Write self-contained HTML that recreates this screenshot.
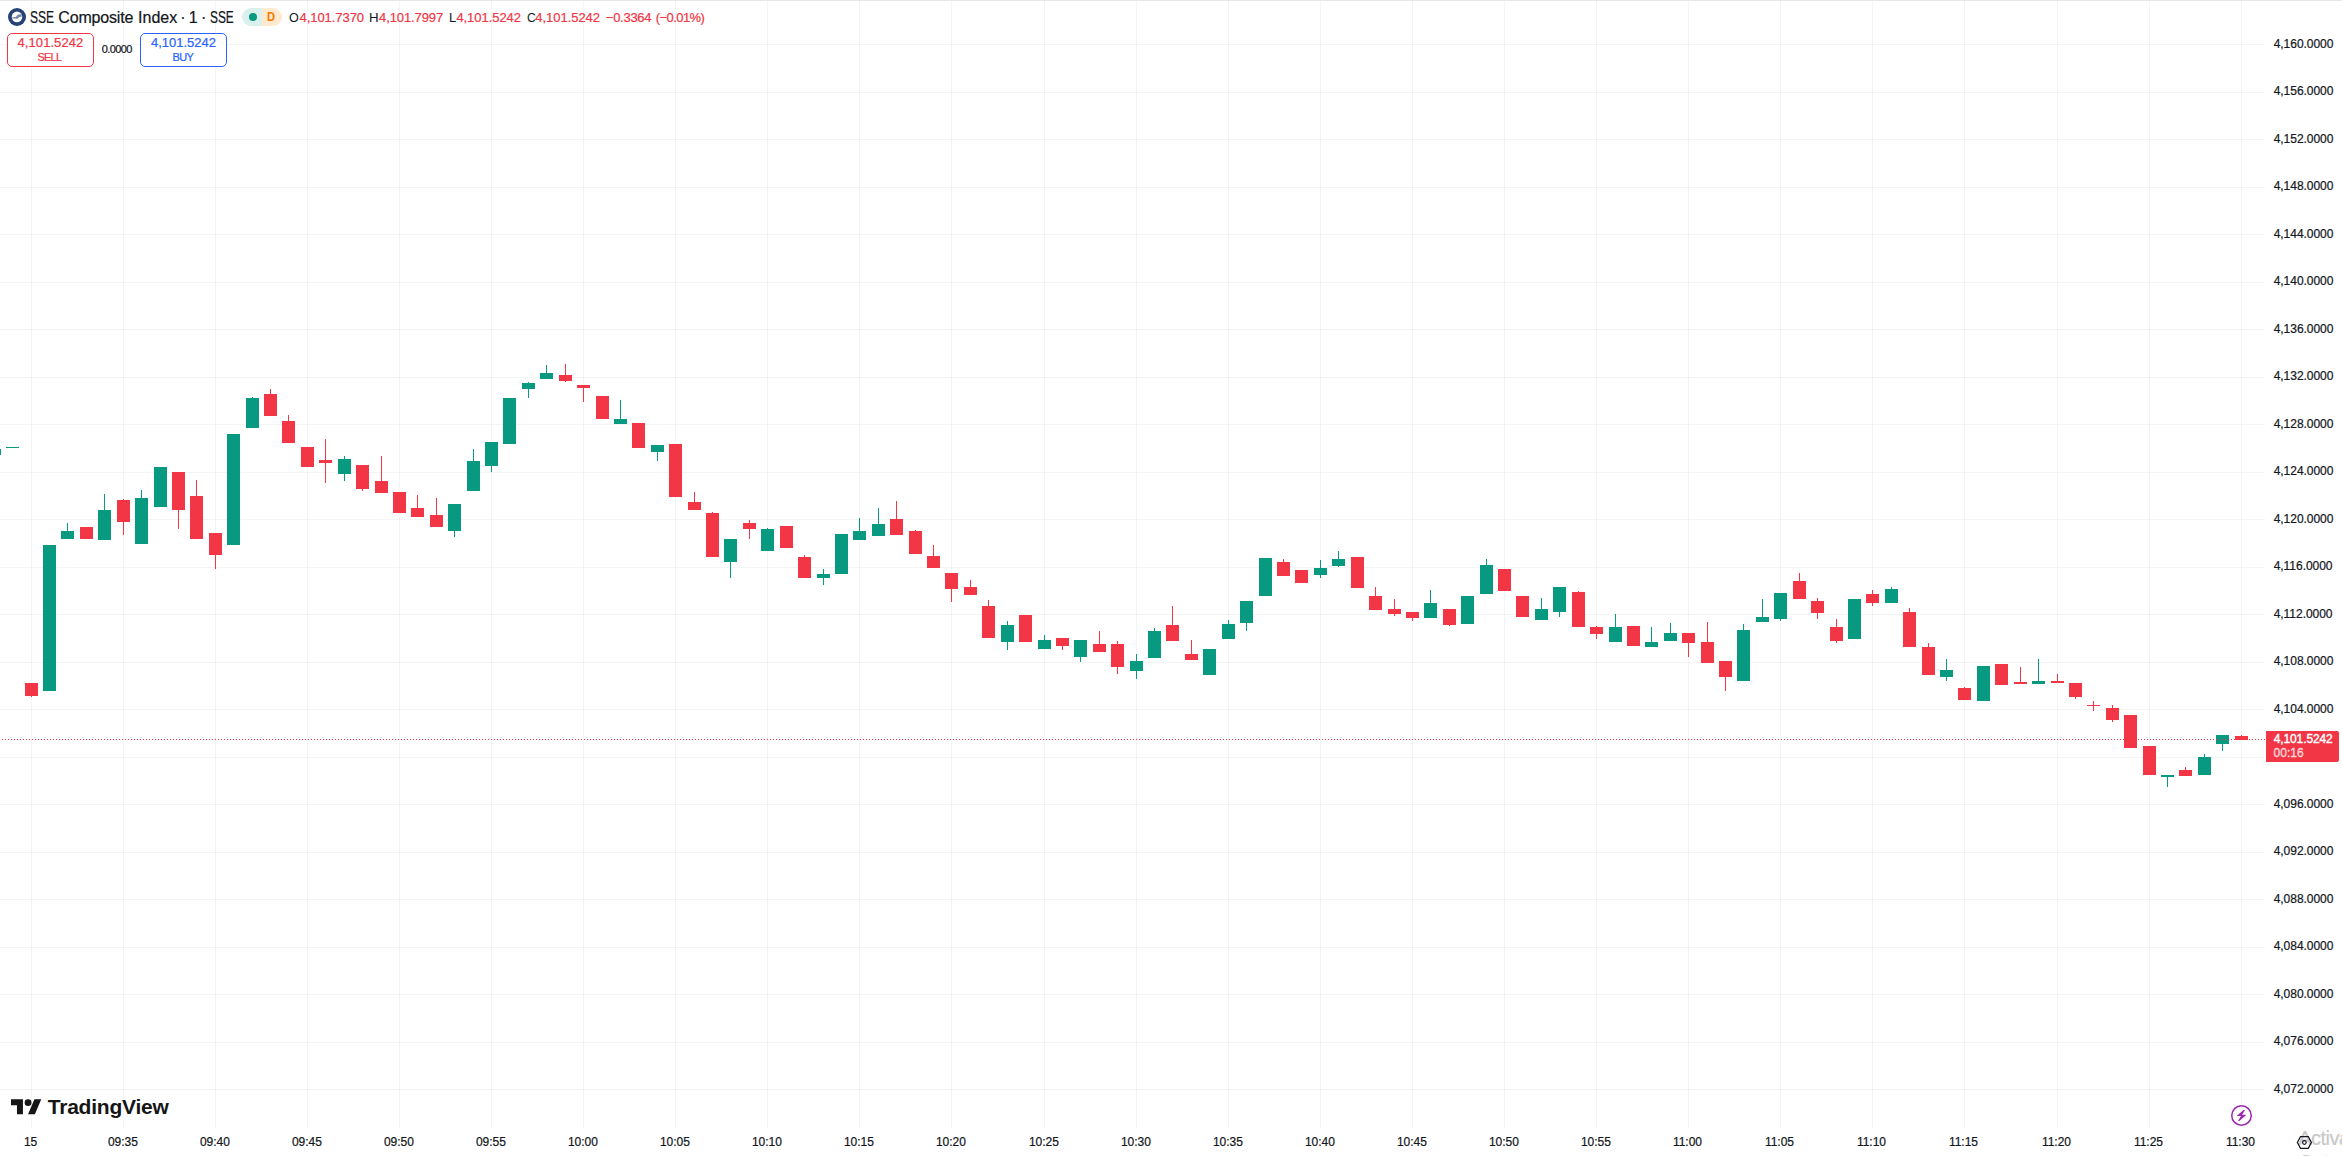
<!DOCTYPE html>
<html lang="en"><head><meta charset="utf-8"><title>SSE Composite Index</title>
<style>
html,body{margin:0;padding:0;background:#fff;}
body{width:2342px;height:1156px;position:relative;overflow:hidden;font-family:"Liberation Sans",sans-serif;color:#131722;}
#chart{position:absolute;left:0;top:0;}
.t{position:absolute;white-space:nowrap;line-height:1;-webkit-text-stroke:0.22px currentColor;}
.pl{font-size:12px;}
.tl{font-size:12px;top:1136px;}
</style></head><body>

<svg id="chart" width="2342" height="1156" viewBox="0 0 2342 1156" shape-rendering="crispEdges">
<rect x="0" y="0" width="2342" height="1" fill="#e8e8e8"/>
<g fill="rgba(42,46,57,0.055)">
<rect x="0" y="44" width="2265" height="1"/>
<rect x="0" y="92" width="2265" height="1"/>
<rect x="0" y="139" width="2265" height="1"/>
<rect x="0" y="187" width="2265" height="1"/>
<rect x="0" y="234" width="2265" height="1"/>
<rect x="0" y="282" width="2265" height="1"/>
<rect x="0" y="329" width="2265" height="1"/>
<rect x="0" y="377" width="2265" height="1"/>
<rect x="0" y="424" width="2265" height="1"/>
<rect x="0" y="472" width="2265" height="1"/>
<rect x="0" y="519" width="2265" height="1"/>
<rect x="0" y="567" width="2265" height="1"/>
<rect x="0" y="614" width="2265" height="1"/>
<rect x="0" y="662" width="2265" height="1"/>
<rect x="0" y="709" width="2265" height="1"/>
<rect x="0" y="757" width="2265" height="1"/>
<rect x="0" y="804" width="2265" height="1"/>
<rect x="0" y="852" width="2265" height="1"/>
<rect x="0" y="899" width="2265" height="1"/>
<rect x="0" y="947" width="2265" height="1"/>
<rect x="0" y="994" width="2265" height="1"/>
<rect x="0" y="1042" width="2265" height="1"/>
<rect x="0" y="1089" width="2265" height="1"/>
<rect x="31" y="1" width="1" height="1127"/>
<rect x="123" y="1" width="1" height="1127"/>
<rect x="215" y="1" width="1" height="1127"/>
<rect x="307" y="1" width="1" height="1127"/>
<rect x="399" y="1" width="1" height="1127"/>
<rect x="491" y="1" width="1" height="1127"/>
<rect x="583" y="1" width="1" height="1127"/>
<rect x="675" y="1" width="1" height="1127"/>
<rect x="767" y="1" width="1" height="1127"/>
<rect x="859" y="1" width="1" height="1127"/>
<rect x="951" y="1" width="1" height="1127"/>
<rect x="1044" y="1" width="1" height="1127"/>
<rect x="1136" y="1" width="1" height="1127"/>
<rect x="1228" y="1" width="1" height="1127"/>
<rect x="1320" y="1" width="1" height="1127"/>
<rect x="1412" y="1" width="1" height="1127"/>
<rect x="1504" y="1" width="1" height="1127"/>
<rect x="1596" y="1" width="1" height="1127"/>
<rect x="1688" y="1" width="1" height="1127"/>
<rect x="1780" y="1" width="1" height="1127"/>
<rect x="1872" y="1" width="1" height="1127"/>
<rect x="1964" y="1" width="1" height="1127"/>
<rect x="2057" y="1" width="1" height="1127"/>
<rect x="2149" y="1" width="1" height="1127"/>
<rect x="2241" y="1" width="1" height="1127"/>
</g>
<rect x="0" y="449" width="1" height="6" fill="#089981"/>
<rect x="6" y="447" width="13" height="1" fill="#089981"/>
<rect x="31" y="683" width="1" height="14" fill="#f23645"/>
<rect x="25" y="683" width="13" height="13" fill="#f23645"/>
<rect x="43" y="545" width="13" height="146" fill="#089981"/>
<rect x="67" y="523" width="1" height="16" fill="#089981"/>
<rect x="61" y="531" width="13" height="8" fill="#089981"/>
<rect x="80" y="527" width="13" height="12" fill="#f23645"/>
<rect x="104" y="494" width="1" height="46" fill="#089981"/>
<rect x="98" y="510" width="13" height="30" fill="#089981"/>
<rect x="123" y="499" width="1" height="36" fill="#f23645"/>
<rect x="117" y="500" width="13" height="22" fill="#f23645"/>
<rect x="141" y="490" width="1" height="54" fill="#089981"/>
<rect x="135" y="498" width="13" height="46" fill="#089981"/>
<rect x="154" y="467" width="13" height="40" fill="#089981"/>
<rect x="178" y="472" width="1" height="57" fill="#f23645"/>
<rect x="172" y="472" width="13" height="38" fill="#f23645"/>
<rect x="196" y="480" width="1" height="59" fill="#f23645"/>
<rect x="190" y="496" width="13" height="43" fill="#f23645"/>
<rect x="215" y="533" width="1" height="36" fill="#f23645"/>
<rect x="209" y="533" width="13" height="22" fill="#f23645"/>
<rect x="227" y="434" width="13" height="111" fill="#089981"/>
<rect x="252" y="397" width="1" height="31" fill="#089981"/>
<rect x="246" y="398" width="13" height="30" fill="#089981"/>
<rect x="270" y="389" width="1" height="27" fill="#f23645"/>
<rect x="264" y="394" width="13" height="22" fill="#f23645"/>
<rect x="288" y="415" width="1" height="28" fill="#f23645"/>
<rect x="282" y="421" width="13" height="22" fill="#f23645"/>
<rect x="301" y="447" width="13" height="20" fill="#f23645"/>
<rect x="325" y="439" width="1" height="44" fill="#f23645"/>
<rect x="319" y="460" width="13" height="3" fill="#f23645"/>
<rect x="344" y="456" width="1" height="25" fill="#089981"/>
<rect x="338" y="459" width="13" height="15" fill="#089981"/>
<rect x="362" y="465" width="1" height="26" fill="#f23645"/>
<rect x="356" y="465" width="13" height="24" fill="#f23645"/>
<rect x="381" y="456" width="1" height="37" fill="#f23645"/>
<rect x="375" y="481" width="13" height="12" fill="#f23645"/>
<rect x="393" y="492" width="13" height="21" fill="#f23645"/>
<rect x="417" y="495" width="1" height="22" fill="#f23645"/>
<rect x="411" y="508" width="13" height="9" fill="#f23645"/>
<rect x="436" y="498" width="1" height="29" fill="#f23645"/>
<rect x="430" y="515" width="13" height="12" fill="#f23645"/>
<rect x="454" y="504" width="1" height="33" fill="#089981"/>
<rect x="448" y="504" width="13" height="27" fill="#089981"/>
<rect x="473" y="449" width="1" height="42" fill="#089981"/>
<rect x="467" y="461" width="13" height="30" fill="#089981"/>
<rect x="491" y="442" width="1" height="30" fill="#089981"/>
<rect x="485" y="442" width="13" height="24" fill="#089981"/>
<rect x="503" y="398" width="13" height="46" fill="#089981"/>
<rect x="528" y="382" width="1" height="16" fill="#089981"/>
<rect x="522" y="383" width="13" height="6" fill="#089981"/>
<rect x="546" y="365" width="1" height="14" fill="#089981"/>
<rect x="540" y="373" width="13" height="6" fill="#089981"/>
<rect x="565" y="364" width="1" height="18" fill="#f23645"/>
<rect x="559" y="375" width="13" height="6" fill="#f23645"/>
<rect x="583" y="385" width="1" height="17" fill="#f23645"/>
<rect x="577" y="385" width="13" height="3" fill="#f23645"/>
<rect x="596" y="396" width="13" height="23" fill="#f23645"/>
<rect x="620" y="400" width="1" height="24" fill="#089981"/>
<rect x="614" y="419" width="13" height="5" fill="#089981"/>
<rect x="632" y="423" width="13" height="25" fill="#f23645"/>
<rect x="657" y="445" width="1" height="16" fill="#089981"/>
<rect x="651" y="445" width="13" height="7" fill="#089981"/>
<rect x="669" y="444" width="13" height="53" fill="#f23645"/>
<rect x="694" y="492" width="1" height="18" fill="#f23645"/>
<rect x="688" y="502" width="13" height="8" fill="#f23645"/>
<rect x="712" y="512" width="1" height="45" fill="#f23645"/>
<rect x="706" y="513" width="13" height="44" fill="#f23645"/>
<rect x="730" y="539" width="1" height="39" fill="#089981"/>
<rect x="724" y="539" width="13" height="23" fill="#089981"/>
<rect x="749" y="520" width="1" height="19" fill="#f23645"/>
<rect x="743" y="523" width="13" height="6" fill="#f23645"/>
<rect x="767" y="528" width="1" height="23" fill="#089981"/>
<rect x="761" y="529" width="13" height="22" fill="#089981"/>
<rect x="780" y="526" width="13" height="22" fill="#f23645"/>
<rect x="804" y="555" width="1" height="23" fill="#f23645"/>
<rect x="798" y="557" width="13" height="21" fill="#f23645"/>
<rect x="823" y="569" width="1" height="16" fill="#089981"/>
<rect x="817" y="574" width="13" height="4" fill="#089981"/>
<rect x="835" y="534" width="13" height="40" fill="#089981"/>
<rect x="859" y="518" width="1" height="22" fill="#089981"/>
<rect x="853" y="531" width="13" height="9" fill="#089981"/>
<rect x="878" y="508" width="1" height="28" fill="#089981"/>
<rect x="872" y="524" width="13" height="12" fill="#089981"/>
<rect x="896" y="501" width="1" height="34" fill="#f23645"/>
<rect x="890" y="519" width="13" height="16" fill="#f23645"/>
<rect x="915" y="530" width="1" height="24" fill="#f23645"/>
<rect x="909" y="531" width="13" height="23" fill="#f23645"/>
<rect x="933" y="545" width="1" height="23" fill="#f23645"/>
<rect x="927" y="556" width="13" height="12" fill="#f23645"/>
<rect x="951" y="573" width="1" height="29" fill="#f23645"/>
<rect x="945" y="573" width="13" height="16" fill="#f23645"/>
<rect x="970" y="580" width="1" height="15" fill="#f23645"/>
<rect x="964" y="587" width="13" height="8" fill="#f23645"/>
<rect x="988" y="600" width="1" height="38" fill="#f23645"/>
<rect x="982" y="606" width="13" height="32" fill="#f23645"/>
<rect x="1007" y="621" width="1" height="29" fill="#089981"/>
<rect x="1001" y="625" width="13" height="17" fill="#089981"/>
<rect x="1019" y="615" width="13" height="27" fill="#f23645"/>
<rect x="1044" y="635" width="1" height="14" fill="#089981"/>
<rect x="1038" y="640" width="13" height="9" fill="#089981"/>
<rect x="1062" y="638" width="1" height="12" fill="#f23645"/>
<rect x="1056" y="638" width="13" height="8" fill="#f23645"/>
<rect x="1080" y="640" width="1" height="22" fill="#089981"/>
<rect x="1074" y="640" width="13" height="17" fill="#089981"/>
<rect x="1099" y="631" width="1" height="21" fill="#f23645"/>
<rect x="1093" y="644" width="13" height="8" fill="#f23645"/>
<rect x="1117" y="641" width="1" height="33" fill="#f23645"/>
<rect x="1111" y="644" width="13" height="23" fill="#f23645"/>
<rect x="1136" y="654" width="1" height="25" fill="#089981"/>
<rect x="1130" y="661" width="13" height="10" fill="#089981"/>
<rect x="1154" y="628" width="1" height="30" fill="#089981"/>
<rect x="1148" y="631" width="13" height="27" fill="#089981"/>
<rect x="1172" y="606" width="1" height="35" fill="#f23645"/>
<rect x="1166" y="625" width="13" height="16" fill="#f23645"/>
<rect x="1191" y="640" width="1" height="20" fill="#f23645"/>
<rect x="1185" y="654" width="13" height="6" fill="#f23645"/>
<rect x="1203" y="649" width="13" height="26" fill="#089981"/>
<rect x="1228" y="620" width="1" height="19" fill="#089981"/>
<rect x="1222" y="624" width="13" height="15" fill="#089981"/>
<rect x="1246" y="601" width="1" height="30" fill="#089981"/>
<rect x="1240" y="601" width="13" height="22" fill="#089981"/>
<rect x="1259" y="558" width="13" height="38" fill="#089981"/>
<rect x="1283" y="559" width="1" height="17" fill="#f23645"/>
<rect x="1277" y="562" width="13" height="14" fill="#f23645"/>
<rect x="1295" y="570" width="13" height="13" fill="#f23645"/>
<rect x="1320" y="560" width="1" height="18" fill="#089981"/>
<rect x="1314" y="568" width="13" height="7" fill="#089981"/>
<rect x="1338" y="551" width="1" height="16" fill="#089981"/>
<rect x="1332" y="559" width="13" height="7" fill="#089981"/>
<rect x="1351" y="557" width="13" height="31" fill="#f23645"/>
<rect x="1375" y="587" width="1" height="23" fill="#f23645"/>
<rect x="1369" y="596" width="13" height="14" fill="#f23645"/>
<rect x="1394" y="599" width="1" height="17" fill="#f23645"/>
<rect x="1388" y="609" width="13" height="5" fill="#f23645"/>
<rect x="1412" y="612" width="1" height="9" fill="#f23645"/>
<rect x="1406" y="612" width="13" height="6" fill="#f23645"/>
<rect x="1430" y="590" width="1" height="28" fill="#089981"/>
<rect x="1424" y="603" width="13" height="15" fill="#089981"/>
<rect x="1449" y="609" width="1" height="17" fill="#f23645"/>
<rect x="1443" y="609" width="13" height="16" fill="#f23645"/>
<rect x="1461" y="596" width="13" height="28" fill="#089981"/>
<rect x="1486" y="559" width="1" height="35" fill="#089981"/>
<rect x="1480" y="565" width="13" height="29" fill="#089981"/>
<rect x="1498" y="569" width="13" height="22" fill="#f23645"/>
<rect x="1516" y="596" width="13" height="21" fill="#f23645"/>
<rect x="1541" y="598" width="1" height="22" fill="#089981"/>
<rect x="1535" y="609" width="13" height="11" fill="#089981"/>
<rect x="1559" y="587" width="1" height="30" fill="#089981"/>
<rect x="1553" y="587" width="13" height="25" fill="#089981"/>
<rect x="1578" y="591" width="1" height="36" fill="#f23645"/>
<rect x="1572" y="592" width="13" height="35" fill="#f23645"/>
<rect x="1596" y="626" width="1" height="13" fill="#f23645"/>
<rect x="1590" y="627" width="13" height="7" fill="#f23645"/>
<rect x="1615" y="614" width="1" height="28" fill="#089981"/>
<rect x="1609" y="627" width="13" height="15" fill="#089981"/>
<rect x="1627" y="626" width="13" height="20" fill="#f23645"/>
<rect x="1651" y="627" width="1" height="20" fill="#089981"/>
<rect x="1645" y="642" width="13" height="5" fill="#089981"/>
<rect x="1670" y="623" width="1" height="18" fill="#089981"/>
<rect x="1664" y="633" width="13" height="8" fill="#089981"/>
<rect x="1688" y="633" width="1" height="24" fill="#f23645"/>
<rect x="1682" y="633" width="13" height="10" fill="#f23645"/>
<rect x="1707" y="622" width="1" height="41" fill="#f23645"/>
<rect x="1701" y="642" width="13" height="21" fill="#f23645"/>
<rect x="1725" y="661" width="1" height="30" fill="#f23645"/>
<rect x="1719" y="661" width="13" height="16" fill="#f23645"/>
<rect x="1743" y="624" width="1" height="57" fill="#089981"/>
<rect x="1737" y="630" width="13" height="51" fill="#089981"/>
<rect x="1762" y="599" width="1" height="23" fill="#089981"/>
<rect x="1756" y="617" width="13" height="5" fill="#089981"/>
<rect x="1780" y="593" width="1" height="28" fill="#089981"/>
<rect x="1774" y="593" width="13" height="26" fill="#089981"/>
<rect x="1799" y="573" width="1" height="26" fill="#f23645"/>
<rect x="1793" y="581" width="13" height="18" fill="#f23645"/>
<rect x="1817" y="598" width="1" height="21" fill="#f23645"/>
<rect x="1811" y="601" width="13" height="12" fill="#f23645"/>
<rect x="1836" y="619" width="1" height="24" fill="#f23645"/>
<rect x="1830" y="627" width="13" height="14" fill="#f23645"/>
<rect x="1848" y="599" width="13" height="40" fill="#089981"/>
<rect x="1872" y="590" width="1" height="16" fill="#f23645"/>
<rect x="1866" y="594" width="13" height="9" fill="#f23645"/>
<rect x="1891" y="587" width="1" height="16" fill="#089981"/>
<rect x="1885" y="589" width="13" height="14" fill="#089981"/>
<rect x="1909" y="608" width="1" height="39" fill="#f23645"/>
<rect x="1903" y="612" width="13" height="35" fill="#f23645"/>
<rect x="1928" y="643" width="1" height="32" fill="#f23645"/>
<rect x="1922" y="647" width="13" height="28" fill="#f23645"/>
<rect x="1946" y="659" width="1" height="22" fill="#089981"/>
<rect x="1940" y="670" width="13" height="7" fill="#089981"/>
<rect x="1964" y="687" width="1" height="13" fill="#f23645"/>
<rect x="1958" y="688" width="13" height="12" fill="#f23645"/>
<rect x="1977" y="666" width="13" height="35" fill="#089981"/>
<rect x="1995" y="664" width="13" height="21" fill="#f23645"/>
<rect x="2020" y="667" width="1" height="17" fill="#f23645"/>
<rect x="2014" y="682" width="13" height="2" fill="#f23645"/>
<rect x="2038" y="659" width="1" height="25" fill="#089981"/>
<rect x="2032" y="681" width="13" height="3" fill="#089981"/>
<rect x="2057" y="674" width="1" height="9" fill="#f23645"/>
<rect x="2051" y="681" width="13" height="2" fill="#f23645"/>
<rect x="2075" y="683" width="1" height="16" fill="#f23645"/>
<rect x="2069" y="683" width="13" height="14" fill="#f23645"/>
<rect x="2093" y="701" width="1" height="10" fill="#f23645"/>
<rect x="2087" y="705" width="13" height="1" fill="#f23645"/>
<rect x="2112" y="705" width="1" height="17" fill="#f23645"/>
<rect x="2106" y="708" width="13" height="12" fill="#f23645"/>
<rect x="2124" y="715" width="13" height="33" fill="#f23645"/>
<rect x="2143" y="746" width="13" height="29" fill="#f23645"/>
<rect x="2167" y="775" width="1" height="12" fill="#089981"/>
<rect x="2161" y="775" width="13" height="2" fill="#089981"/>
<rect x="2185" y="767" width="1" height="9" fill="#f23645"/>
<rect x="2179" y="770" width="13" height="6" fill="#f23645"/>
<rect x="2204" y="754" width="1" height="21" fill="#089981"/>
<rect x="2198" y="757" width="13" height="18" fill="#089981"/>
<rect x="2222" y="735" width="1" height="16" fill="#089981"/>
<rect x="2216" y="735" width="13" height="9" fill="#089981"/>
<rect x="2241" y="735" width="1" height="5" fill="#f23645"/>
<rect x="2235" y="736" width="13" height="4" fill="#f23645"/>
<g fill="#f23645">
<rect x="2" y="739" width="1" height="1"/>
<rect x="5" y="739" width="1" height="1"/>
<rect x="8" y="739" width="1" height="1"/>
<rect x="11" y="739" width="1" height="1"/>
<rect x="14" y="739" width="1" height="1"/>
<rect x="17" y="739" width="1" height="1"/>
<rect x="20" y="739" width="1" height="1"/>
<rect x="23" y="739" width="1" height="1"/>
<rect x="26" y="739" width="1" height="1"/>
<rect x="29" y="739" width="1" height="1"/>
<rect x="32" y="739" width="1" height="1"/>
<rect x="35" y="739" width="1" height="1"/>
<rect x="38" y="739" width="1" height="1"/>
<rect x="41" y="739" width="1" height="1"/>
<rect x="44" y="739" width="1" height="1"/>
<rect x="47" y="739" width="1" height="1"/>
<rect x="50" y="739" width="1" height="1"/>
<rect x="53" y="739" width="1" height="1"/>
<rect x="56" y="739" width="1" height="1"/>
<rect x="59" y="739" width="1" height="1"/>
<rect x="62" y="739" width="1" height="1"/>
<rect x="65" y="739" width="1" height="1"/>
<rect x="68" y="739" width="1" height="1"/>
<rect x="71" y="739" width="1" height="1"/>
<rect x="74" y="739" width="1" height="1"/>
<rect x="77" y="739" width="1" height="1"/>
<rect x="80" y="739" width="1" height="1"/>
<rect x="83" y="739" width="1" height="1"/>
<rect x="86" y="739" width="1" height="1"/>
<rect x="89" y="739" width="1" height="1"/>
<rect x="92" y="739" width="1" height="1"/>
<rect x="95" y="739" width="1" height="1"/>
<rect x="98" y="739" width="1" height="1"/>
<rect x="101" y="739" width="1" height="1"/>
<rect x="104" y="739" width="1" height="1"/>
<rect x="107" y="739" width="1" height="1"/>
<rect x="110" y="739" width="1" height="1"/>
<rect x="113" y="739" width="1" height="1"/>
<rect x="116" y="739" width="1" height="1"/>
<rect x="119" y="739" width="1" height="1"/>
<rect x="122" y="739" width="1" height="1"/>
<rect x="125" y="739" width="1" height="1"/>
<rect x="128" y="739" width="1" height="1"/>
<rect x="131" y="739" width="1" height="1"/>
<rect x="134" y="739" width="1" height="1"/>
<rect x="137" y="739" width="1" height="1"/>
<rect x="140" y="739" width="1" height="1"/>
<rect x="143" y="739" width="1" height="1"/>
<rect x="146" y="739" width="1" height="1"/>
<rect x="149" y="739" width="1" height="1"/>
<rect x="152" y="739" width="1" height="1"/>
<rect x="155" y="739" width="1" height="1"/>
<rect x="158" y="739" width="1" height="1"/>
<rect x="161" y="739" width="1" height="1"/>
<rect x="164" y="739" width="1" height="1"/>
<rect x="167" y="739" width="1" height="1"/>
<rect x="170" y="739" width="1" height="1"/>
<rect x="173" y="739" width="1" height="1"/>
<rect x="176" y="739" width="1" height="1"/>
<rect x="179" y="739" width="1" height="1"/>
<rect x="182" y="739" width="1" height="1"/>
<rect x="185" y="739" width="1" height="1"/>
<rect x="188" y="739" width="1" height="1"/>
<rect x="191" y="739" width="1" height="1"/>
<rect x="194" y="739" width="1" height="1"/>
<rect x="197" y="739" width="1" height="1"/>
<rect x="200" y="739" width="1" height="1"/>
<rect x="203" y="739" width="1" height="1"/>
<rect x="206" y="739" width="1" height="1"/>
<rect x="209" y="739" width="1" height="1"/>
<rect x="212" y="739" width="1" height="1"/>
<rect x="215" y="739" width="1" height="1"/>
<rect x="218" y="739" width="1" height="1"/>
<rect x="221" y="739" width="1" height="1"/>
<rect x="224" y="739" width="1" height="1"/>
<rect x="227" y="739" width="1" height="1"/>
<rect x="230" y="739" width="1" height="1"/>
<rect x="233" y="739" width="1" height="1"/>
<rect x="236" y="739" width="1" height="1"/>
<rect x="239" y="739" width="1" height="1"/>
<rect x="242" y="739" width="1" height="1"/>
<rect x="245" y="739" width="1" height="1"/>
<rect x="248" y="739" width="1" height="1"/>
<rect x="251" y="739" width="1" height="1"/>
<rect x="254" y="739" width="1" height="1"/>
<rect x="257" y="739" width="1" height="1"/>
<rect x="260" y="739" width="1" height="1"/>
<rect x="263" y="739" width="1" height="1"/>
<rect x="266" y="739" width="1" height="1"/>
<rect x="269" y="739" width="1" height="1"/>
<rect x="272" y="739" width="1" height="1"/>
<rect x="275" y="739" width="1" height="1"/>
<rect x="278" y="739" width="1" height="1"/>
<rect x="281" y="739" width="1" height="1"/>
<rect x="284" y="739" width="1" height="1"/>
<rect x="287" y="739" width="1" height="1"/>
<rect x="290" y="739" width="1" height="1"/>
<rect x="293" y="739" width="1" height="1"/>
<rect x="296" y="739" width="1" height="1"/>
<rect x="299" y="739" width="1" height="1"/>
<rect x="302" y="739" width="1" height="1"/>
<rect x="305" y="739" width="1" height="1"/>
<rect x="308" y="739" width="1" height="1"/>
<rect x="311" y="739" width="1" height="1"/>
<rect x="314" y="739" width="1" height="1"/>
<rect x="317" y="739" width="1" height="1"/>
<rect x="320" y="739" width="1" height="1"/>
<rect x="323" y="739" width="1" height="1"/>
<rect x="326" y="739" width="1" height="1"/>
<rect x="329" y="739" width="1" height="1"/>
<rect x="332" y="739" width="1" height="1"/>
<rect x="335" y="739" width="1" height="1"/>
<rect x="338" y="739" width="1" height="1"/>
<rect x="341" y="739" width="1" height="1"/>
<rect x="344" y="739" width="1" height="1"/>
<rect x="347" y="739" width="1" height="1"/>
<rect x="350" y="739" width="1" height="1"/>
<rect x="353" y="739" width="1" height="1"/>
<rect x="356" y="739" width="1" height="1"/>
<rect x="359" y="739" width="1" height="1"/>
<rect x="362" y="739" width="1" height="1"/>
<rect x="365" y="739" width="1" height="1"/>
<rect x="368" y="739" width="1" height="1"/>
<rect x="371" y="739" width="1" height="1"/>
<rect x="374" y="739" width="1" height="1"/>
<rect x="377" y="739" width="1" height="1"/>
<rect x="380" y="739" width="1" height="1"/>
<rect x="383" y="739" width="1" height="1"/>
<rect x="386" y="739" width="1" height="1"/>
<rect x="389" y="739" width="1" height="1"/>
<rect x="392" y="739" width="1" height="1"/>
<rect x="395" y="739" width="1" height="1"/>
<rect x="398" y="739" width="1" height="1"/>
<rect x="401" y="739" width="1" height="1"/>
<rect x="404" y="739" width="1" height="1"/>
<rect x="407" y="739" width="1" height="1"/>
<rect x="410" y="739" width="1" height="1"/>
<rect x="413" y="739" width="1" height="1"/>
<rect x="416" y="739" width="1" height="1"/>
<rect x="419" y="739" width="1" height="1"/>
<rect x="422" y="739" width="1" height="1"/>
<rect x="425" y="739" width="1" height="1"/>
<rect x="428" y="739" width="1" height="1"/>
<rect x="431" y="739" width="1" height="1"/>
<rect x="434" y="739" width="1" height="1"/>
<rect x="437" y="739" width="1" height="1"/>
<rect x="440" y="739" width="1" height="1"/>
<rect x="443" y="739" width="1" height="1"/>
<rect x="446" y="739" width="1" height="1"/>
<rect x="449" y="739" width="1" height="1"/>
<rect x="452" y="739" width="1" height="1"/>
<rect x="455" y="739" width="1" height="1"/>
<rect x="458" y="739" width="1" height="1"/>
<rect x="461" y="739" width="1" height="1"/>
<rect x="464" y="739" width="1" height="1"/>
<rect x="467" y="739" width="1" height="1"/>
<rect x="470" y="739" width="1" height="1"/>
<rect x="473" y="739" width="1" height="1"/>
<rect x="476" y="739" width="1" height="1"/>
<rect x="479" y="739" width="1" height="1"/>
<rect x="482" y="739" width="1" height="1"/>
<rect x="485" y="739" width="1" height="1"/>
<rect x="488" y="739" width="1" height="1"/>
<rect x="491" y="739" width="1" height="1"/>
<rect x="494" y="739" width="1" height="1"/>
<rect x="497" y="739" width="1" height="1"/>
<rect x="500" y="739" width="1" height="1"/>
<rect x="503" y="739" width="1" height="1"/>
<rect x="506" y="739" width="1" height="1"/>
<rect x="509" y="739" width="1" height="1"/>
<rect x="512" y="739" width="1" height="1"/>
<rect x="515" y="739" width="1" height="1"/>
<rect x="518" y="739" width="1" height="1"/>
<rect x="521" y="739" width="1" height="1"/>
<rect x="524" y="739" width="1" height="1"/>
<rect x="527" y="739" width="1" height="1"/>
<rect x="530" y="739" width="1" height="1"/>
<rect x="533" y="739" width="1" height="1"/>
<rect x="536" y="739" width="1" height="1"/>
<rect x="539" y="739" width="1" height="1"/>
<rect x="542" y="739" width="1" height="1"/>
<rect x="545" y="739" width="1" height="1"/>
<rect x="548" y="739" width="1" height="1"/>
<rect x="551" y="739" width="1" height="1"/>
<rect x="554" y="739" width="1" height="1"/>
<rect x="557" y="739" width="1" height="1"/>
<rect x="560" y="739" width="1" height="1"/>
<rect x="563" y="739" width="1" height="1"/>
<rect x="566" y="739" width="1" height="1"/>
<rect x="569" y="739" width="1" height="1"/>
<rect x="572" y="739" width="1" height="1"/>
<rect x="575" y="739" width="1" height="1"/>
<rect x="578" y="739" width="1" height="1"/>
<rect x="581" y="739" width="1" height="1"/>
<rect x="584" y="739" width="1" height="1"/>
<rect x="587" y="739" width="1" height="1"/>
<rect x="590" y="739" width="1" height="1"/>
<rect x="593" y="739" width="1" height="1"/>
<rect x="596" y="739" width="1" height="1"/>
<rect x="599" y="739" width="1" height="1"/>
<rect x="602" y="739" width="1" height="1"/>
<rect x="605" y="739" width="1" height="1"/>
<rect x="608" y="739" width="1" height="1"/>
<rect x="611" y="739" width="1" height="1"/>
<rect x="614" y="739" width="1" height="1"/>
<rect x="617" y="739" width="1" height="1"/>
<rect x="620" y="739" width="1" height="1"/>
<rect x="623" y="739" width="1" height="1"/>
<rect x="626" y="739" width="1" height="1"/>
<rect x="629" y="739" width="1" height="1"/>
<rect x="632" y="739" width="1" height="1"/>
<rect x="635" y="739" width="1" height="1"/>
<rect x="638" y="739" width="1" height="1"/>
<rect x="641" y="739" width="1" height="1"/>
<rect x="644" y="739" width="1" height="1"/>
<rect x="647" y="739" width="1" height="1"/>
<rect x="650" y="739" width="1" height="1"/>
<rect x="653" y="739" width="1" height="1"/>
<rect x="656" y="739" width="1" height="1"/>
<rect x="659" y="739" width="1" height="1"/>
<rect x="662" y="739" width="1" height="1"/>
<rect x="665" y="739" width="1" height="1"/>
<rect x="668" y="739" width="1" height="1"/>
<rect x="671" y="739" width="1" height="1"/>
<rect x="674" y="739" width="1" height="1"/>
<rect x="677" y="739" width="1" height="1"/>
<rect x="680" y="739" width="1" height="1"/>
<rect x="683" y="739" width="1" height="1"/>
<rect x="686" y="739" width="1" height="1"/>
<rect x="689" y="739" width="1" height="1"/>
<rect x="692" y="739" width="1" height="1"/>
<rect x="695" y="739" width="1" height="1"/>
<rect x="698" y="739" width="1" height="1"/>
<rect x="701" y="739" width="1" height="1"/>
<rect x="704" y="739" width="1" height="1"/>
<rect x="707" y="739" width="1" height="1"/>
<rect x="710" y="739" width="1" height="1"/>
<rect x="713" y="739" width="1" height="1"/>
<rect x="716" y="739" width="1" height="1"/>
<rect x="719" y="739" width="1" height="1"/>
<rect x="722" y="739" width="1" height="1"/>
<rect x="725" y="739" width="1" height="1"/>
<rect x="728" y="739" width="1" height="1"/>
<rect x="731" y="739" width="1" height="1"/>
<rect x="734" y="739" width="1" height="1"/>
<rect x="737" y="739" width="1" height="1"/>
<rect x="740" y="739" width="1" height="1"/>
<rect x="743" y="739" width="1" height="1"/>
<rect x="746" y="739" width="1" height="1"/>
<rect x="749" y="739" width="1" height="1"/>
<rect x="752" y="739" width="1" height="1"/>
<rect x="755" y="739" width="1" height="1"/>
<rect x="758" y="739" width="1" height="1"/>
<rect x="761" y="739" width="1" height="1"/>
<rect x="764" y="739" width="1" height="1"/>
<rect x="767" y="739" width="1" height="1"/>
<rect x="770" y="739" width="1" height="1"/>
<rect x="773" y="739" width="1" height="1"/>
<rect x="776" y="739" width="1" height="1"/>
<rect x="779" y="739" width="1" height="1"/>
<rect x="782" y="739" width="1" height="1"/>
<rect x="785" y="739" width="1" height="1"/>
<rect x="788" y="739" width="1" height="1"/>
<rect x="791" y="739" width="1" height="1"/>
<rect x="794" y="739" width="1" height="1"/>
<rect x="797" y="739" width="1" height="1"/>
<rect x="800" y="739" width="1" height="1"/>
<rect x="803" y="739" width="1" height="1"/>
<rect x="806" y="739" width="1" height="1"/>
<rect x="809" y="739" width="1" height="1"/>
<rect x="812" y="739" width="1" height="1"/>
<rect x="815" y="739" width="1" height="1"/>
<rect x="818" y="739" width="1" height="1"/>
<rect x="821" y="739" width="1" height="1"/>
<rect x="824" y="739" width="1" height="1"/>
<rect x="827" y="739" width="1" height="1"/>
<rect x="830" y="739" width="1" height="1"/>
<rect x="833" y="739" width="1" height="1"/>
<rect x="836" y="739" width="1" height="1"/>
<rect x="839" y="739" width="1" height="1"/>
<rect x="842" y="739" width="1" height="1"/>
<rect x="845" y="739" width="1" height="1"/>
<rect x="848" y="739" width="1" height="1"/>
<rect x="851" y="739" width="1" height="1"/>
<rect x="854" y="739" width="1" height="1"/>
<rect x="857" y="739" width="1" height="1"/>
<rect x="860" y="739" width="1" height="1"/>
<rect x="863" y="739" width="1" height="1"/>
<rect x="866" y="739" width="1" height="1"/>
<rect x="869" y="739" width="1" height="1"/>
<rect x="872" y="739" width="1" height="1"/>
<rect x="875" y="739" width="1" height="1"/>
<rect x="878" y="739" width="1" height="1"/>
<rect x="881" y="739" width="1" height="1"/>
<rect x="884" y="739" width="1" height="1"/>
<rect x="887" y="739" width="1" height="1"/>
<rect x="890" y="739" width="1" height="1"/>
<rect x="893" y="739" width="1" height="1"/>
<rect x="896" y="739" width="1" height="1"/>
<rect x="899" y="739" width="1" height="1"/>
<rect x="902" y="739" width="1" height="1"/>
<rect x="905" y="739" width="1" height="1"/>
<rect x="908" y="739" width="1" height="1"/>
<rect x="911" y="739" width="1" height="1"/>
<rect x="914" y="739" width="1" height="1"/>
<rect x="917" y="739" width="1" height="1"/>
<rect x="920" y="739" width="1" height="1"/>
<rect x="923" y="739" width="1" height="1"/>
<rect x="926" y="739" width="1" height="1"/>
<rect x="929" y="739" width="1" height="1"/>
<rect x="932" y="739" width="1" height="1"/>
<rect x="935" y="739" width="1" height="1"/>
<rect x="938" y="739" width="1" height="1"/>
<rect x="941" y="739" width="1" height="1"/>
<rect x="944" y="739" width="1" height="1"/>
<rect x="947" y="739" width="1" height="1"/>
<rect x="950" y="739" width="1" height="1"/>
<rect x="953" y="739" width="1" height="1"/>
<rect x="956" y="739" width="1" height="1"/>
<rect x="959" y="739" width="1" height="1"/>
<rect x="962" y="739" width="1" height="1"/>
<rect x="965" y="739" width="1" height="1"/>
<rect x="968" y="739" width="1" height="1"/>
<rect x="971" y="739" width="1" height="1"/>
<rect x="974" y="739" width="1" height="1"/>
<rect x="977" y="739" width="1" height="1"/>
<rect x="980" y="739" width="1" height="1"/>
<rect x="983" y="739" width="1" height="1"/>
<rect x="986" y="739" width="1" height="1"/>
<rect x="989" y="739" width="1" height="1"/>
<rect x="992" y="739" width="1" height="1"/>
<rect x="995" y="739" width="1" height="1"/>
<rect x="998" y="739" width="1" height="1"/>
<rect x="1001" y="739" width="1" height="1"/>
<rect x="1004" y="739" width="1" height="1"/>
<rect x="1007" y="739" width="1" height="1"/>
<rect x="1010" y="739" width="1" height="1"/>
<rect x="1013" y="739" width="1" height="1"/>
<rect x="1016" y="739" width="1" height="1"/>
<rect x="1019" y="739" width="1" height="1"/>
<rect x="1022" y="739" width="1" height="1"/>
<rect x="1025" y="739" width="1" height="1"/>
<rect x="1028" y="739" width="1" height="1"/>
<rect x="1031" y="739" width="1" height="1"/>
<rect x="1034" y="739" width="1" height="1"/>
<rect x="1037" y="739" width="1" height="1"/>
<rect x="1040" y="739" width="1" height="1"/>
<rect x="1043" y="739" width="1" height="1"/>
<rect x="1046" y="739" width="1" height="1"/>
<rect x="1049" y="739" width="1" height="1"/>
<rect x="1052" y="739" width="1" height="1"/>
<rect x="1055" y="739" width="1" height="1"/>
<rect x="1058" y="739" width="1" height="1"/>
<rect x="1061" y="739" width="1" height="1"/>
<rect x="1064" y="739" width="1" height="1"/>
<rect x="1067" y="739" width="1" height="1"/>
<rect x="1070" y="739" width="1" height="1"/>
<rect x="1073" y="739" width="1" height="1"/>
<rect x="1076" y="739" width="1" height="1"/>
<rect x="1079" y="739" width="1" height="1"/>
<rect x="1082" y="739" width="1" height="1"/>
<rect x="1085" y="739" width="1" height="1"/>
<rect x="1088" y="739" width="1" height="1"/>
<rect x="1091" y="739" width="1" height="1"/>
<rect x="1094" y="739" width="1" height="1"/>
<rect x="1097" y="739" width="1" height="1"/>
<rect x="1100" y="739" width="1" height="1"/>
<rect x="1103" y="739" width="1" height="1"/>
<rect x="1106" y="739" width="1" height="1"/>
<rect x="1109" y="739" width="1" height="1"/>
<rect x="1112" y="739" width="1" height="1"/>
<rect x="1115" y="739" width="1" height="1"/>
<rect x="1118" y="739" width="1" height="1"/>
<rect x="1121" y="739" width="1" height="1"/>
<rect x="1124" y="739" width="1" height="1"/>
<rect x="1127" y="739" width="1" height="1"/>
<rect x="1130" y="739" width="1" height="1"/>
<rect x="1133" y="739" width="1" height="1"/>
<rect x="1136" y="739" width="1" height="1"/>
<rect x="1139" y="739" width="1" height="1"/>
<rect x="1142" y="739" width="1" height="1"/>
<rect x="1145" y="739" width="1" height="1"/>
<rect x="1148" y="739" width="1" height="1"/>
<rect x="1151" y="739" width="1" height="1"/>
<rect x="1154" y="739" width="1" height="1"/>
<rect x="1157" y="739" width="1" height="1"/>
<rect x="1160" y="739" width="1" height="1"/>
<rect x="1163" y="739" width="1" height="1"/>
<rect x="1166" y="739" width="1" height="1"/>
<rect x="1169" y="739" width="1" height="1"/>
<rect x="1172" y="739" width="1" height="1"/>
<rect x="1175" y="739" width="1" height="1"/>
<rect x="1178" y="739" width="1" height="1"/>
<rect x="1181" y="739" width="1" height="1"/>
<rect x="1184" y="739" width="1" height="1"/>
<rect x="1187" y="739" width="1" height="1"/>
<rect x="1190" y="739" width="1" height="1"/>
<rect x="1193" y="739" width="1" height="1"/>
<rect x="1196" y="739" width="1" height="1"/>
<rect x="1199" y="739" width="1" height="1"/>
<rect x="1202" y="739" width="1" height="1"/>
<rect x="1205" y="739" width="1" height="1"/>
<rect x="1208" y="739" width="1" height="1"/>
<rect x="1211" y="739" width="1" height="1"/>
<rect x="1214" y="739" width="1" height="1"/>
<rect x="1217" y="739" width="1" height="1"/>
<rect x="1220" y="739" width="1" height="1"/>
<rect x="1223" y="739" width="1" height="1"/>
<rect x="1226" y="739" width="1" height="1"/>
<rect x="1229" y="739" width="1" height="1"/>
<rect x="1232" y="739" width="1" height="1"/>
<rect x="1235" y="739" width="1" height="1"/>
<rect x="1238" y="739" width="1" height="1"/>
<rect x="1241" y="739" width="1" height="1"/>
<rect x="1244" y="739" width="1" height="1"/>
<rect x="1247" y="739" width="1" height="1"/>
<rect x="1250" y="739" width="1" height="1"/>
<rect x="1253" y="739" width="1" height="1"/>
<rect x="1256" y="739" width="1" height="1"/>
<rect x="1259" y="739" width="1" height="1"/>
<rect x="1262" y="739" width="1" height="1"/>
<rect x="1265" y="739" width="1" height="1"/>
<rect x="1268" y="739" width="1" height="1"/>
<rect x="1271" y="739" width="1" height="1"/>
<rect x="1274" y="739" width="1" height="1"/>
<rect x="1277" y="739" width="1" height="1"/>
<rect x="1280" y="739" width="1" height="1"/>
<rect x="1283" y="739" width="1" height="1"/>
<rect x="1286" y="739" width="1" height="1"/>
<rect x="1289" y="739" width="1" height="1"/>
<rect x="1292" y="739" width="1" height="1"/>
<rect x="1295" y="739" width="1" height="1"/>
<rect x="1298" y="739" width="1" height="1"/>
<rect x="1301" y="739" width="1" height="1"/>
<rect x="1304" y="739" width="1" height="1"/>
<rect x="1307" y="739" width="1" height="1"/>
<rect x="1310" y="739" width="1" height="1"/>
<rect x="1313" y="739" width="1" height="1"/>
<rect x="1316" y="739" width="1" height="1"/>
<rect x="1319" y="739" width="1" height="1"/>
<rect x="1322" y="739" width="1" height="1"/>
<rect x="1325" y="739" width="1" height="1"/>
<rect x="1328" y="739" width="1" height="1"/>
<rect x="1331" y="739" width="1" height="1"/>
<rect x="1334" y="739" width="1" height="1"/>
<rect x="1337" y="739" width="1" height="1"/>
<rect x="1340" y="739" width="1" height="1"/>
<rect x="1343" y="739" width="1" height="1"/>
<rect x="1346" y="739" width="1" height="1"/>
<rect x="1349" y="739" width="1" height="1"/>
<rect x="1352" y="739" width="1" height="1"/>
<rect x="1355" y="739" width="1" height="1"/>
<rect x="1358" y="739" width="1" height="1"/>
<rect x="1361" y="739" width="1" height="1"/>
<rect x="1364" y="739" width="1" height="1"/>
<rect x="1367" y="739" width="1" height="1"/>
<rect x="1370" y="739" width="1" height="1"/>
<rect x="1373" y="739" width="1" height="1"/>
<rect x="1376" y="739" width="1" height="1"/>
<rect x="1379" y="739" width="1" height="1"/>
<rect x="1382" y="739" width="1" height="1"/>
<rect x="1385" y="739" width="1" height="1"/>
<rect x="1388" y="739" width="1" height="1"/>
<rect x="1391" y="739" width="1" height="1"/>
<rect x="1394" y="739" width="1" height="1"/>
<rect x="1397" y="739" width="1" height="1"/>
<rect x="1400" y="739" width="1" height="1"/>
<rect x="1403" y="739" width="1" height="1"/>
<rect x="1406" y="739" width="1" height="1"/>
<rect x="1409" y="739" width="1" height="1"/>
<rect x="1412" y="739" width="1" height="1"/>
<rect x="1415" y="739" width="1" height="1"/>
<rect x="1418" y="739" width="1" height="1"/>
<rect x="1421" y="739" width="1" height="1"/>
<rect x="1424" y="739" width="1" height="1"/>
<rect x="1427" y="739" width="1" height="1"/>
<rect x="1430" y="739" width="1" height="1"/>
<rect x="1433" y="739" width="1" height="1"/>
<rect x="1436" y="739" width="1" height="1"/>
<rect x="1439" y="739" width="1" height="1"/>
<rect x="1442" y="739" width="1" height="1"/>
<rect x="1445" y="739" width="1" height="1"/>
<rect x="1448" y="739" width="1" height="1"/>
<rect x="1451" y="739" width="1" height="1"/>
<rect x="1454" y="739" width="1" height="1"/>
<rect x="1457" y="739" width="1" height="1"/>
<rect x="1460" y="739" width="1" height="1"/>
<rect x="1463" y="739" width="1" height="1"/>
<rect x="1466" y="739" width="1" height="1"/>
<rect x="1469" y="739" width="1" height="1"/>
<rect x="1472" y="739" width="1" height="1"/>
<rect x="1475" y="739" width="1" height="1"/>
<rect x="1478" y="739" width="1" height="1"/>
<rect x="1481" y="739" width="1" height="1"/>
<rect x="1484" y="739" width="1" height="1"/>
<rect x="1487" y="739" width="1" height="1"/>
<rect x="1490" y="739" width="1" height="1"/>
<rect x="1493" y="739" width="1" height="1"/>
<rect x="1496" y="739" width="1" height="1"/>
<rect x="1499" y="739" width="1" height="1"/>
<rect x="1502" y="739" width="1" height="1"/>
<rect x="1505" y="739" width="1" height="1"/>
<rect x="1508" y="739" width="1" height="1"/>
<rect x="1511" y="739" width="1" height="1"/>
<rect x="1514" y="739" width="1" height="1"/>
<rect x="1517" y="739" width="1" height="1"/>
<rect x="1520" y="739" width="1" height="1"/>
<rect x="1523" y="739" width="1" height="1"/>
<rect x="1526" y="739" width="1" height="1"/>
<rect x="1529" y="739" width="1" height="1"/>
<rect x="1532" y="739" width="1" height="1"/>
<rect x="1535" y="739" width="1" height="1"/>
<rect x="1538" y="739" width="1" height="1"/>
<rect x="1541" y="739" width="1" height="1"/>
<rect x="1544" y="739" width="1" height="1"/>
<rect x="1547" y="739" width="1" height="1"/>
<rect x="1550" y="739" width="1" height="1"/>
<rect x="1553" y="739" width="1" height="1"/>
<rect x="1556" y="739" width="1" height="1"/>
<rect x="1559" y="739" width="1" height="1"/>
<rect x="1562" y="739" width="1" height="1"/>
<rect x="1565" y="739" width="1" height="1"/>
<rect x="1568" y="739" width="1" height="1"/>
<rect x="1571" y="739" width="1" height="1"/>
<rect x="1574" y="739" width="1" height="1"/>
<rect x="1577" y="739" width="1" height="1"/>
<rect x="1580" y="739" width="1" height="1"/>
<rect x="1583" y="739" width="1" height="1"/>
<rect x="1586" y="739" width="1" height="1"/>
<rect x="1589" y="739" width="1" height="1"/>
<rect x="1592" y="739" width="1" height="1"/>
<rect x="1595" y="739" width="1" height="1"/>
<rect x="1598" y="739" width="1" height="1"/>
<rect x="1601" y="739" width="1" height="1"/>
<rect x="1604" y="739" width="1" height="1"/>
<rect x="1607" y="739" width="1" height="1"/>
<rect x="1610" y="739" width="1" height="1"/>
<rect x="1613" y="739" width="1" height="1"/>
<rect x="1616" y="739" width="1" height="1"/>
<rect x="1619" y="739" width="1" height="1"/>
<rect x="1622" y="739" width="1" height="1"/>
<rect x="1625" y="739" width="1" height="1"/>
<rect x="1628" y="739" width="1" height="1"/>
<rect x="1631" y="739" width="1" height="1"/>
<rect x="1634" y="739" width="1" height="1"/>
<rect x="1637" y="739" width="1" height="1"/>
<rect x="1640" y="739" width="1" height="1"/>
<rect x="1643" y="739" width="1" height="1"/>
<rect x="1646" y="739" width="1" height="1"/>
<rect x="1649" y="739" width="1" height="1"/>
<rect x="1652" y="739" width="1" height="1"/>
<rect x="1655" y="739" width="1" height="1"/>
<rect x="1658" y="739" width="1" height="1"/>
<rect x="1661" y="739" width="1" height="1"/>
<rect x="1664" y="739" width="1" height="1"/>
<rect x="1667" y="739" width="1" height="1"/>
<rect x="1670" y="739" width="1" height="1"/>
<rect x="1673" y="739" width="1" height="1"/>
<rect x="1676" y="739" width="1" height="1"/>
<rect x="1679" y="739" width="1" height="1"/>
<rect x="1682" y="739" width="1" height="1"/>
<rect x="1685" y="739" width="1" height="1"/>
<rect x="1688" y="739" width="1" height="1"/>
<rect x="1691" y="739" width="1" height="1"/>
<rect x="1694" y="739" width="1" height="1"/>
<rect x="1697" y="739" width="1" height="1"/>
<rect x="1700" y="739" width="1" height="1"/>
<rect x="1703" y="739" width="1" height="1"/>
<rect x="1706" y="739" width="1" height="1"/>
<rect x="1709" y="739" width="1" height="1"/>
<rect x="1712" y="739" width="1" height="1"/>
<rect x="1715" y="739" width="1" height="1"/>
<rect x="1718" y="739" width="1" height="1"/>
<rect x="1721" y="739" width="1" height="1"/>
<rect x="1724" y="739" width="1" height="1"/>
<rect x="1727" y="739" width="1" height="1"/>
<rect x="1730" y="739" width="1" height="1"/>
<rect x="1733" y="739" width="1" height="1"/>
<rect x="1736" y="739" width="1" height="1"/>
<rect x="1739" y="739" width="1" height="1"/>
<rect x="1742" y="739" width="1" height="1"/>
<rect x="1745" y="739" width="1" height="1"/>
<rect x="1748" y="739" width="1" height="1"/>
<rect x="1751" y="739" width="1" height="1"/>
<rect x="1754" y="739" width="1" height="1"/>
<rect x="1757" y="739" width="1" height="1"/>
<rect x="1760" y="739" width="1" height="1"/>
<rect x="1763" y="739" width="1" height="1"/>
<rect x="1766" y="739" width="1" height="1"/>
<rect x="1769" y="739" width="1" height="1"/>
<rect x="1772" y="739" width="1" height="1"/>
<rect x="1775" y="739" width="1" height="1"/>
<rect x="1778" y="739" width="1" height="1"/>
<rect x="1781" y="739" width="1" height="1"/>
<rect x="1784" y="739" width="1" height="1"/>
<rect x="1787" y="739" width="1" height="1"/>
<rect x="1790" y="739" width="1" height="1"/>
<rect x="1793" y="739" width="1" height="1"/>
<rect x="1796" y="739" width="1" height="1"/>
<rect x="1799" y="739" width="1" height="1"/>
<rect x="1802" y="739" width="1" height="1"/>
<rect x="1805" y="739" width="1" height="1"/>
<rect x="1808" y="739" width="1" height="1"/>
<rect x="1811" y="739" width="1" height="1"/>
<rect x="1814" y="739" width="1" height="1"/>
<rect x="1817" y="739" width="1" height="1"/>
<rect x="1820" y="739" width="1" height="1"/>
<rect x="1823" y="739" width="1" height="1"/>
<rect x="1826" y="739" width="1" height="1"/>
<rect x="1829" y="739" width="1" height="1"/>
<rect x="1832" y="739" width="1" height="1"/>
<rect x="1835" y="739" width="1" height="1"/>
<rect x="1838" y="739" width="1" height="1"/>
<rect x="1841" y="739" width="1" height="1"/>
<rect x="1844" y="739" width="1" height="1"/>
<rect x="1847" y="739" width="1" height="1"/>
<rect x="1850" y="739" width="1" height="1"/>
<rect x="1853" y="739" width="1" height="1"/>
<rect x="1856" y="739" width="1" height="1"/>
<rect x="1859" y="739" width="1" height="1"/>
<rect x="1862" y="739" width="1" height="1"/>
<rect x="1865" y="739" width="1" height="1"/>
<rect x="1868" y="739" width="1" height="1"/>
<rect x="1871" y="739" width="1" height="1"/>
<rect x="1874" y="739" width="1" height="1"/>
<rect x="1877" y="739" width="1" height="1"/>
<rect x="1880" y="739" width="1" height="1"/>
<rect x="1883" y="739" width="1" height="1"/>
<rect x="1886" y="739" width="1" height="1"/>
<rect x="1889" y="739" width="1" height="1"/>
<rect x="1892" y="739" width="1" height="1"/>
<rect x="1895" y="739" width="1" height="1"/>
<rect x="1898" y="739" width="1" height="1"/>
<rect x="1901" y="739" width="1" height="1"/>
<rect x="1904" y="739" width="1" height="1"/>
<rect x="1907" y="739" width="1" height="1"/>
<rect x="1910" y="739" width="1" height="1"/>
<rect x="1913" y="739" width="1" height="1"/>
<rect x="1916" y="739" width="1" height="1"/>
<rect x="1919" y="739" width="1" height="1"/>
<rect x="1922" y="739" width="1" height="1"/>
<rect x="1925" y="739" width="1" height="1"/>
<rect x="1928" y="739" width="1" height="1"/>
<rect x="1931" y="739" width="1" height="1"/>
<rect x="1934" y="739" width="1" height="1"/>
<rect x="1937" y="739" width="1" height="1"/>
<rect x="1940" y="739" width="1" height="1"/>
<rect x="1943" y="739" width="1" height="1"/>
<rect x="1946" y="739" width="1" height="1"/>
<rect x="1949" y="739" width="1" height="1"/>
<rect x="1952" y="739" width="1" height="1"/>
<rect x="1955" y="739" width="1" height="1"/>
<rect x="1958" y="739" width="1" height="1"/>
<rect x="1961" y="739" width="1" height="1"/>
<rect x="1964" y="739" width="1" height="1"/>
<rect x="1967" y="739" width="1" height="1"/>
<rect x="1970" y="739" width="1" height="1"/>
<rect x="1973" y="739" width="1" height="1"/>
<rect x="1976" y="739" width="1" height="1"/>
<rect x="1979" y="739" width="1" height="1"/>
<rect x="1982" y="739" width="1" height="1"/>
<rect x="1985" y="739" width="1" height="1"/>
<rect x="1988" y="739" width="1" height="1"/>
<rect x="1991" y="739" width="1" height="1"/>
<rect x="1994" y="739" width="1" height="1"/>
<rect x="1997" y="739" width="1" height="1"/>
<rect x="2000" y="739" width="1" height="1"/>
<rect x="2003" y="739" width="1" height="1"/>
<rect x="2006" y="739" width="1" height="1"/>
<rect x="2009" y="739" width="1" height="1"/>
<rect x="2012" y="739" width="1" height="1"/>
<rect x="2015" y="739" width="1" height="1"/>
<rect x="2018" y="739" width="1" height="1"/>
<rect x="2021" y="739" width="1" height="1"/>
<rect x="2024" y="739" width="1" height="1"/>
<rect x="2027" y="739" width="1" height="1"/>
<rect x="2030" y="739" width="1" height="1"/>
<rect x="2033" y="739" width="1" height="1"/>
<rect x="2036" y="739" width="1" height="1"/>
<rect x="2039" y="739" width="1" height="1"/>
<rect x="2042" y="739" width="1" height="1"/>
<rect x="2045" y="739" width="1" height="1"/>
<rect x="2048" y="739" width="1" height="1"/>
<rect x="2051" y="739" width="1" height="1"/>
<rect x="2054" y="739" width="1" height="1"/>
<rect x="2057" y="739" width="1" height="1"/>
<rect x="2060" y="739" width="1" height="1"/>
<rect x="2063" y="739" width="1" height="1"/>
<rect x="2066" y="739" width="1" height="1"/>
<rect x="2069" y="739" width="1" height="1"/>
<rect x="2072" y="739" width="1" height="1"/>
<rect x="2075" y="739" width="1" height="1"/>
<rect x="2078" y="739" width="1" height="1"/>
<rect x="2081" y="739" width="1" height="1"/>
<rect x="2084" y="739" width="1" height="1"/>
<rect x="2087" y="739" width="1" height="1"/>
<rect x="2090" y="739" width="1" height="1"/>
<rect x="2093" y="739" width="1" height="1"/>
<rect x="2096" y="739" width="1" height="1"/>
<rect x="2099" y="739" width="1" height="1"/>
<rect x="2102" y="739" width="1" height="1"/>
<rect x="2105" y="739" width="1" height="1"/>
<rect x="2108" y="739" width="1" height="1"/>
<rect x="2111" y="739" width="1" height="1"/>
<rect x="2114" y="739" width="1" height="1"/>
<rect x="2117" y="739" width="1" height="1"/>
<rect x="2120" y="739" width="1" height="1"/>
<rect x="2123" y="739" width="1" height="1"/>
<rect x="2126" y="739" width="1" height="1"/>
<rect x="2129" y="739" width="1" height="1"/>
<rect x="2132" y="739" width="1" height="1"/>
<rect x="2135" y="739" width="1" height="1"/>
<rect x="2138" y="739" width="1" height="1"/>
<rect x="2141" y="739" width="1" height="1"/>
<rect x="2144" y="739" width="1" height="1"/>
<rect x="2147" y="739" width="1" height="1"/>
<rect x="2150" y="739" width="1" height="1"/>
<rect x="2153" y="739" width="1" height="1"/>
<rect x="2156" y="739" width="1" height="1"/>
<rect x="2159" y="739" width="1" height="1"/>
<rect x="2162" y="739" width="1" height="1"/>
<rect x="2165" y="739" width="1" height="1"/>
<rect x="2168" y="739" width="1" height="1"/>
<rect x="2171" y="739" width="1" height="1"/>
<rect x="2174" y="739" width="1" height="1"/>
<rect x="2177" y="739" width="1" height="1"/>
<rect x="2180" y="739" width="1" height="1"/>
<rect x="2183" y="739" width="1" height="1"/>
<rect x="2186" y="739" width="1" height="1"/>
<rect x="2189" y="739" width="1" height="1"/>
<rect x="2192" y="739" width="1" height="1"/>
<rect x="2195" y="739" width="1" height="1"/>
<rect x="2198" y="739" width="1" height="1"/>
<rect x="2201" y="739" width="1" height="1"/>
<rect x="2204" y="739" width="1" height="1"/>
<rect x="2207" y="739" width="1" height="1"/>
<rect x="2210" y="739" width="1" height="1"/>
<rect x="2213" y="739" width="1" height="1"/>
<rect x="2216" y="739" width="1" height="1"/>
<rect x="2219" y="739" width="1" height="1"/>
<rect x="2222" y="739" width="1" height="1"/>
<rect x="2225" y="739" width="1" height="1"/>
<rect x="2228" y="739" width="1" height="1"/>
<rect x="2231" y="739" width="1" height="1"/>
<rect x="2234" y="739" width="1" height="1"/>
<rect x="2237" y="739" width="1" height="1"/>
<rect x="2240" y="739" width="1" height="1"/>
<rect x="2243" y="739" width="1" height="1"/>
<rect x="2246" y="739" width="1" height="1"/>
<rect x="2249" y="739" width="1" height="1"/>
<rect x="2252" y="739" width="1" height="1"/>
<rect x="2255" y="739" width="1" height="1"/>
<rect x="2258" y="739" width="1" height="1"/>
<rect x="2261" y="739" width="1" height="1"/>
<rect x="2264" y="739" width="1" height="1"/>
</g>
</svg>
<div style="position:absolute;left:2266px;top:731px;width:73px;height:31px;background:#f23645;border-radius:0 2px 2px 0;"></div>
<div class="t pl" style="left:2273.70px;top:38px;letter-spacing:-0.040px">4,160.0000</div>
<div class="t pl" style="left:2273.70px;top:85px;letter-spacing:-0.040px">4,156.0000</div>
<div class="t pl" style="left:2273.70px;top:133px;letter-spacing:-0.040px">4,152.0000</div>
<div class="t pl" style="left:2273.70px;top:180px;letter-spacing:-0.040px">4,148.0000</div>
<div class="t pl" style="left:2273.70px;top:228px;letter-spacing:-0.040px">4,144.0000</div>
<div class="t pl" style="left:2273.70px;top:275px;letter-spacing:-0.040px">4,140.0000</div>
<div class="t pl" style="left:2273.70px;top:323px;letter-spacing:-0.040px">4,136.0000</div>
<div class="t pl" style="left:2273.70px;top:370px;letter-spacing:-0.040px">4,132.0000</div>
<div class="t pl" style="left:2273.70px;top:418px;letter-spacing:-0.040px">4,128.0000</div>
<div class="t pl" style="left:2273.70px;top:465px;letter-spacing:-0.040px">4,124.0000</div>
<div class="t pl" style="left:2273.70px;top:513px;letter-spacing:-0.040px">4,120.0000</div>
<div class="t pl" style="left:2273.70px;top:560px;letter-spacing:-0.040px">4,116.0000</div>
<div class="t pl" style="left:2273.70px;top:608px;letter-spacing:-0.040px">4,112.0000</div>
<div class="t pl" style="left:2273.70px;top:655px;letter-spacing:-0.040px">4,108.0000</div>
<div class="t pl" style="left:2273.70px;top:703px;letter-spacing:-0.040px">4,104.0000</div>
<div class="t pl" style="left:2273.70px;top:798px;letter-spacing:-0.040px">4,096.0000</div>
<div class="t pl" style="left:2273.70px;top:845px;letter-spacing:-0.040px">4,092.0000</div>
<div class="t pl" style="left:2273.70px;top:893px;letter-spacing:-0.040px">4,088.0000</div>
<div class="t pl" style="left:2273.70px;top:940px;letter-spacing:-0.040px">4,084.0000</div>
<div class="t pl" style="left:2273.70px;top:988px;letter-spacing:-0.040px">4,080.0000</div>
<div class="t pl" style="left:2273.70px;top:1035px;letter-spacing:-0.040px">4,076.0000</div>
<div class="t pl" style="left:2273.70px;top:1083px;letter-spacing:-0.040px">4,072.0000</div>
<div class="t tl" style="left:23.89px">15</div>
<div class="t tl" style="left:107.88px">09:35</div>
<div class="t tl" style="left:199.88px">09:40</div>
<div class="t tl" style="left:291.88px">09:45</div>
<div class="t tl" style="left:383.88px">09:50</div>
<div class="t tl" style="left:475.88px">09:55</div>
<div class="t tl" style="left:567.88px">10:00</div>
<div class="t tl" style="left:659.88px">10:05</div>
<div class="t tl" style="left:751.88px">10:10</div>
<div class="t tl" style="left:843.88px">10:15</div>
<div class="t tl" style="left:935.88px">10:20</div>
<div class="t tl" style="left:1028.88px">10:25</div>
<div class="t tl" style="left:1120.88px">10:30</div>
<div class="t tl" style="left:1212.88px">10:35</div>
<div class="t tl" style="left:1304.88px">10:40</div>
<div class="t tl" style="left:1396.88px">10:45</div>
<div class="t tl" style="left:1488.88px">10:50</div>
<div class="t tl" style="left:1580.88px">10:55</div>
<div class="t tl" style="left:1672.88px">11:00</div>
<div class="t tl" style="left:1764.88px">11:05</div>
<div class="t tl" style="left:1856.88px">11:10</div>
<div class="t tl" style="left:1948.88px">11:15</div>
<div class="t tl" style="left:2041.88px">11:20</div>
<div class="t tl" style="left:2133.88px">11:25</div>
<div class="t tl" style="left:2225.88px">11:30</div>
<svg style="position:absolute;left:8px;top:8px" width="18" height="18" viewBox="0 0 18 18"><circle cx="9" cy="9" r="9" fill="#274276"/><circle cx="9" cy="8.9" r="5.3" fill="#fff"/><path d="M4 9.5 L7.6 9.1 L10 6.5 L13.2 6.3 L14.2 8.6 L11.6 9.1 L9.6 10.7 L4.2 10.6 Z" fill="#274276" fill-opacity=".62"/></svg>
<div style="position:absolute;left:242px;top:8px;width:40px;height:18px;border-radius:9px;overflow:hidden;"><div style="position:absolute;left:0;top:0;width:20px;height:18px;background:#daf0ec"></div><div style="position:absolute;left:20px;top:0;width:20px;height:18px;background:#ffe9cf"></div><div style="position:absolute;left:7px;top:5px;width:8px;height:8px;border-radius:4px;background:#089981"></div></div>
<div style="position:absolute;left:7px;top:33px;width:85px;height:32px;border:1px solid #f23645;border-radius:5px;background:#fff;"></div>
<div style="position:absolute;left:140px;top:33px;width:85px;height:32px;border:1px solid #2962ff;border-radius:5px;background:#fff;"></div>
<svg style="position:absolute;left:11px;top:1095.67px" width="30.7" height="23.333" viewBox="0 0 36 28" preserveAspectRatio="none"><path d="M14 22H7V11H0V4h14v18zM28 22h-8l7.5-18h8L28 22z" fill="#151515"/><circle cx="20" cy="8" r="4" fill="#151515"/></svg>
<svg style="position:absolute;left:2228px;top:1102px" width="27" height="27" viewBox="-13.5 -13.5 27 27"><circle cx="0" cy="0" r="12" fill="#fff"/><circle cx="0" cy="0" r="9.75" fill="none" stroke="#9c27b0" stroke-width="1.5"/><path d="M3.5 -5.5 L2.1 -5.5 L-4.4 0 L-4.4 0.6 L-0.5 0.6 L-3.5 5.4 L-2.1 5.4 L4.4 -0.2 L4.4 -0.8 L0.6 -0.8 Z" fill="#9c27b0"/></svg>
<div class="t" style="top:1128px;font-size:20px;color:#c8c8c8;left:2298.33px;letter-spacing:-0.55px;">Activate Windows</div>
<div class="t" style="left:2300px;top:1152px;font-size:15px;color:#cbcbcb;">Go to Settings to activate Windows.</div>
<svg style="position:absolute;left:2295px;top:1134px" width="19" height="17" viewBox="2295 1134 19 17"><path d="M2300.5 1136.5 H2308.3 L2311.4 1142.45 L2308.3 1148.4 H2300.5 L2297.4 1142.45 Z" fill="none" stroke="#131722" stroke-width="1.25"/><circle cx="2304.4" cy="1142.5" r="1.8" fill="none" stroke="#131722" stroke-width="1.2"/></svg>
<div class="t" style="top:10px;font-size:16px;color:#131722;left:29.63px;transform:scaleX(0.7483);transform-origin:0 0;">SSE</div>
<div class="t" style="top:10px;font-size:16px;color:#131722;left:58.34px;letter-spacing:-0.182px;">Composite</div>
<div class="t" style="top:10px;font-size:16px;color:#131722;left:138.10px;letter-spacing:-0.009px;">Index</div>
<div class="t" style="top:10px;font-size:16px;color:#131722;left:180.29px;">·</div>
<div class="t" style="top:10px;font-size:16px;color:#131722;left:188.68px;">1</div>
<div class="t" style="top:10px;font-size:16px;color:#131722;left:200.99px;">·</div>
<div class="t" style="top:10px;font-size:16px;color:#131722;left:209.83px;transform:scaleX(0.7417);transform-origin:0 0;">SSE</div>
<div class="t" style="top:11px;font-size:12px;color:#f57c00;font-weight:bold;-webkit-text-stroke:0;left:266.86px;transform:scaleX(0.9300);transform-origin:0 0;">D</div>
<div class="t" style="top:11px;font-size:13px;color:#131722;-webkit-text-stroke:0;left:289.17px;transform:scaleX(0.9663);transform-origin:0 0;">O</div>
<div class="t" style="top:11px;font-size:13px;color:#f23645;left:299.59px;letter-spacing:-0.069px;">4,101.7370</div>
<div class="t" style="top:11px;font-size:13px;color:#131722;-webkit-text-stroke:0;left:369.30px;transform:scaleX(1.0211);transform-origin:0 0;">H</div>
<div class="t" style="top:11px;font-size:13px;color:#f23645;left:379.09px;letter-spacing:-0.112px;">4,101.7997</div>
<div class="t" style="top:11px;font-size:13px;color:#131722;-webkit-text-stroke:0;left:448.72px;transform:scaleX(1.0003);transform-origin:0 0;">L</div>
<div class="t" style="top:11px;font-size:13px;color:#f23645;left:456.39px;letter-spacing:-0.046px;">4,101.5242</div>
<div class="t" style="top:11px;font-size:13px;color:#131722;-webkit-text-stroke:0;left:526.65px;transform:scaleX(0.9367);transform-origin:0 0;">C</div>
<div class="t" style="top:11px;font-size:13px;color:#f23645;left:535.29px;letter-spacing:-0.035px;">4,101.5242</div>
<div class="t" style="top:11px;font-size:13px;color:#f23645;left:605.83px;letter-spacing:-0.275px;">−0.3364</div>
<div class="t" style="top:11px;font-size:13px;color:#f23645;left:655.75px;letter-spacing:-0.566px;">(−0.01%)</div>
<div class="t" style="top:36px;font-size:13px;color:#f23645;left:17.59px;letter-spacing:0.065px;">4,101.5242</div>
<div class="t" style="top:52px;font-size:11px;color:#f23645;left:37.57px;letter-spacing:-0.815px;">SELL</div>
<div class="t" style="top:44px;font-size:11px;color:#131722;left:101.71px;letter-spacing:-0.589px;">0.0000</div>
<div class="t" style="top:36px;font-size:13px;color:#2962ff;left:151.09px;letter-spacing:-0.024px;">4,101.5242</div>
<div class="t" style="top:52px;font-size:11px;color:#2962ff;left:172.49px;letter-spacing:-0.694px;">BUY</div>
<div class="t" style="top:733px;font-size:12px;color:#ffffff;-webkit-text-stroke:0.4px currentColor;left:2273.70px;letter-spacing:-0.107px;">4,101.5242</div>
<div class="t" style="top:747px;font-size:12px;color:#fbd3d6;-webkit-text-stroke:0.4px currentColor;left:2273.49px;letter-spacing:0.048px;">00:16</div>
<div class="t" style="top:1096px;font-size:21px;color:#151515;font-weight:bold;-webkit-text-stroke:0;left:47.75px;letter-spacing:-0.229px;">TradingView</div>
</body></html>
